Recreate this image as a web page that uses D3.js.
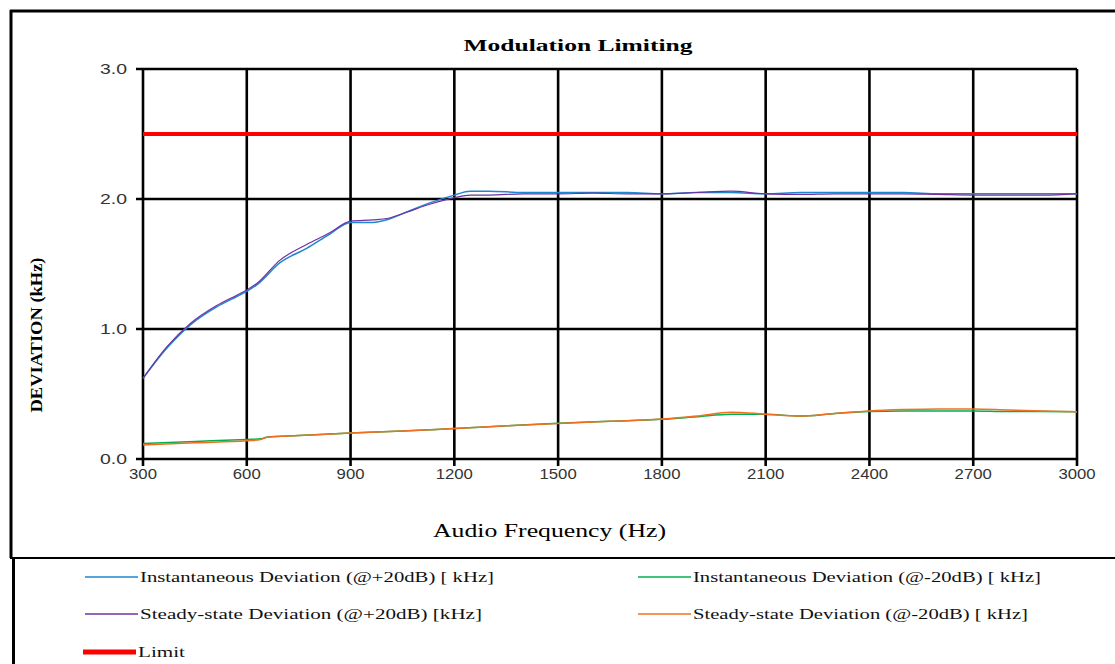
<!DOCTYPE html>
<html><head><meta charset="utf-8">
<script src="https://cdn.jsdelivr.net/npm/d3@7"></script>
<style>body{margin:0;background:#fff}svg{display:block}</style>
</head><body>
<svg id="c" width="1115" height="664"></svg>
<script>
const freqUpper = [300,368,436,513,571,600,629,696,773,840,900,965,1005,1063,1129,1200,1245,1275,1300,1400,1500,1600,1700,1800,1900,2000,2100,2200,2300,2400,2500,2600,2700,2800,2900,3000];
const instPlus = [0.62,0.85,1.03,1.17,1.25,1.29,1.34,1.51,1.62,1.73,1.82,1.82,1.84,1.90,1.97,2.03,2.06,2.06,2.06,2.05,2.05,2.05,2.05,2.04,2.05,2.05,2.04,2.05,2.05,2.05,2.05,2.04,2.04,2.04,2.04,2.04];
const steadyPlus = [0.62,0.86,1.04,1.18,1.26,1.30,1.35,1.53,1.65,1.74,1.83,1.84,1.85,1.90,1.96,2.01,2.03,2.03,2.03,2.04,2.04,2.045,2.04,2.04,2.05,2.06,2.04,2.035,2.04,2.04,2.04,2.035,2.03,2.03,2.03,2.04];
const freqLower = [300,450,600,640,660,750,900,1050,1200,1350,1500,1650,1800,1900,2000,2100,2200,2300,2400,2500,2600,2700,2800,2900,3000];
const instMinus = [0.12,0.135,0.15,0.155,0.17,0.18,0.20,0.215,0.235,0.255,0.275,0.29,0.305,0.325,0.345,0.345,0.33,0.35,0.365,0.37,0.37,0.37,0.365,0.365,0.364];
const steadyMinus = [0.108,0.125,0.14,0.15,0.168,0.18,0.20,0.215,0.235,0.255,0.273,0.29,0.307,0.33,0.36,0.345,0.33,0.35,0.37,0.38,0.385,0.385,0.377,0.37,0.364];
const limitValue = 2.5;
const xTicks = [300,600,900,1200,1500,1800,2100,2400,2700,3000];
const yTicks = [0,1,2,3];
const seriesNames = ["Instantaneous Deviation (@+20dB) [ kHz]","Instantaneous Deviation (@-20dB) [ kHz]","Steady-state Deviation (@+20dB) [kHz]","Steady-state Deviation (@-20dB) [ kHz]","Limit"];

const svg = d3.select("#c");
const x = d3.scaleLinear().domain([300,3000]).range([143,1077]);
const y = d3.scaleLinear().domain([0,3]).range([459,69]);
const serif = "'Liberation Serif','Times New Roman',serif";
const sans = "'Liberation Sans',Arial,sans-serif";

// frame
svg.append("line").attr("x1",10).attr("x2",1115).attr("y1",11).attr("y2",11).attr("stroke","#000").attr("stroke-width",3);
svg.append("line").attr("x1",11).attr("x2",11).attr("y1",10).attr("y2",558).attr("stroke","#000").attr("stroke-width",3);
svg.append("line").attr("x1",10).attr("x2",1115).attr("y1",558).attr("y2",558).attr("stroke","#000").attr("stroke-width",2);
svg.append("line").attr("x1",13.5).attr("x2",13.5).attr("y1",558).attr("y2",664).attr("stroke","#000").attr("stroke-width",3);

// grid
const g = svg.append("g");
g.selectAll(".vx").data(xTicks).join("line")
 .attr("x1",d=>x(d)).attr("x2",d=>x(d)).attr("y1",y(3)).attr("y2",y(0)+7)
 .attr("stroke","#000").attr("stroke-width",2.6);
g.selectAll(".hy").data(yTicks).join("line")
 .attr("x1",x(300)-7).attr("x2",x(3000)).attr("y1",d=>y(d)).attr("y2",d=>y(d))
 .attr("stroke","#000").attr("stroke-width",2.6);

// tick labels
g.selectAll(".xl").data(xTicks).join("text")
 .attr("x",d=>x(d)).attr("y",479).attr("text-anchor","middle")
 .attr("font-family",sans).attr("font-size",14).attr("fill","#333")
 .attr("textLength",d=>String(d).length*9.3).attr("lengthAdjust","spacingAndGlyphs").text(d=>d);
g.selectAll(".yl").data(yTicks).join("text")
 .attr("x",127).attr("y",d=>y(d)+5).attr("text-anchor","end")
 .attr("font-family",sans).attr("font-size",14).attr("fill","#333")
 .attr("textLength",27).attr("lengthAdjust","spacingAndGlyphs").text(d=>d.toFixed(1));

// series
const line = d3.line().curve(d3.curveMonotoneX);
function draw(xs, ys, color, w){
  svg.append("path").attr("d", line(xs.map((f,i)=>[x(f),y(ys[i])])))
   .attr("fill","none").attr("stroke",color).attr("stroke-width",w);
}
draw(freqLower, instMinus, "#00B050", 1.5);
draw(freqLower, steadyMinus, "#F07020", 1.5);
draw(freqUpper, instPlus, "#1F86D0", 1.5);
draw(freqUpper, steadyPlus, "#7030A0", 1.2);
svg.append("line").attr("x1",x(300)).attr("x2",x(3000)).attr("y1",y(limitValue)).attr("y2",y(limitValue))
 .attr("stroke","#FF0000").attr("stroke-width",4);

// titles
svg.append("text").attr("x",578).attr("y",51).attr("text-anchor","middle")
 .attr("font-family",serif).attr("font-weight","bold").attr("font-size",17)
 .attr("textLength",229).attr("lengthAdjust","spacingAndGlyphs").text("Modulation Limiting");
svg.append("text").attr("transform","translate(42,335) rotate(-90)").attr("text-anchor","middle")
 .attr("font-family",serif).attr("font-weight","bold").attr("font-size",17)
 .attr("textLength",155).attr("lengthAdjust","spacingAndGlyphs").text("DEVIATION (kHz)");
svg.append("text").attr("x",549.5).attr("y",537).attr("text-anchor","middle")
 .attr("font-family",serif).attr("font-size",19)
 .attr("textLength",233).attr("lengthAdjust","spacingAndGlyphs").text("Audio Frequency (Hz)");

// legend
const leg = [
 {n:seriesNames[0], c:"#1F86D0", w:1.5, lx:85, ly:577, tl:354},
 {n:seriesNames[1], c:"#00B050", w:1.5, lx:638, ly:577, tl:348},
 {n:seriesNames[2], c:"#7030A0", w:1.5, lx:85, ly:614, tl:342},
 {n:seriesNames[3], c:"#F07020", w:1.5, lx:638, ly:614, tl:335},
 {n:seriesNames[4], c:"#FF0000", w:5, lx:83, ly:652, tl:47}
];
const lg = svg.append("g").selectAll("g").data(leg).join("g");
lg.append("line").attr("x1",d=>d.lx).attr("x2",d=>d.lx+53).attr("y1",d=>d.ly).attr("y2",d=>d.ly)
 .attr("stroke",d=>d.c).attr("stroke-width",d=>d.w);
lg.append("text").attr("x",d=>d.lx+55).attr("y",d=>d.ly+5)
 .attr("font-family",serif).attr("font-size",15).attr("fill","#111")
 .attr("textLength",d=>d.tl).attr("lengthAdjust","spacingAndGlyphs").text(d=>d.n);
</script>
</body></html>
